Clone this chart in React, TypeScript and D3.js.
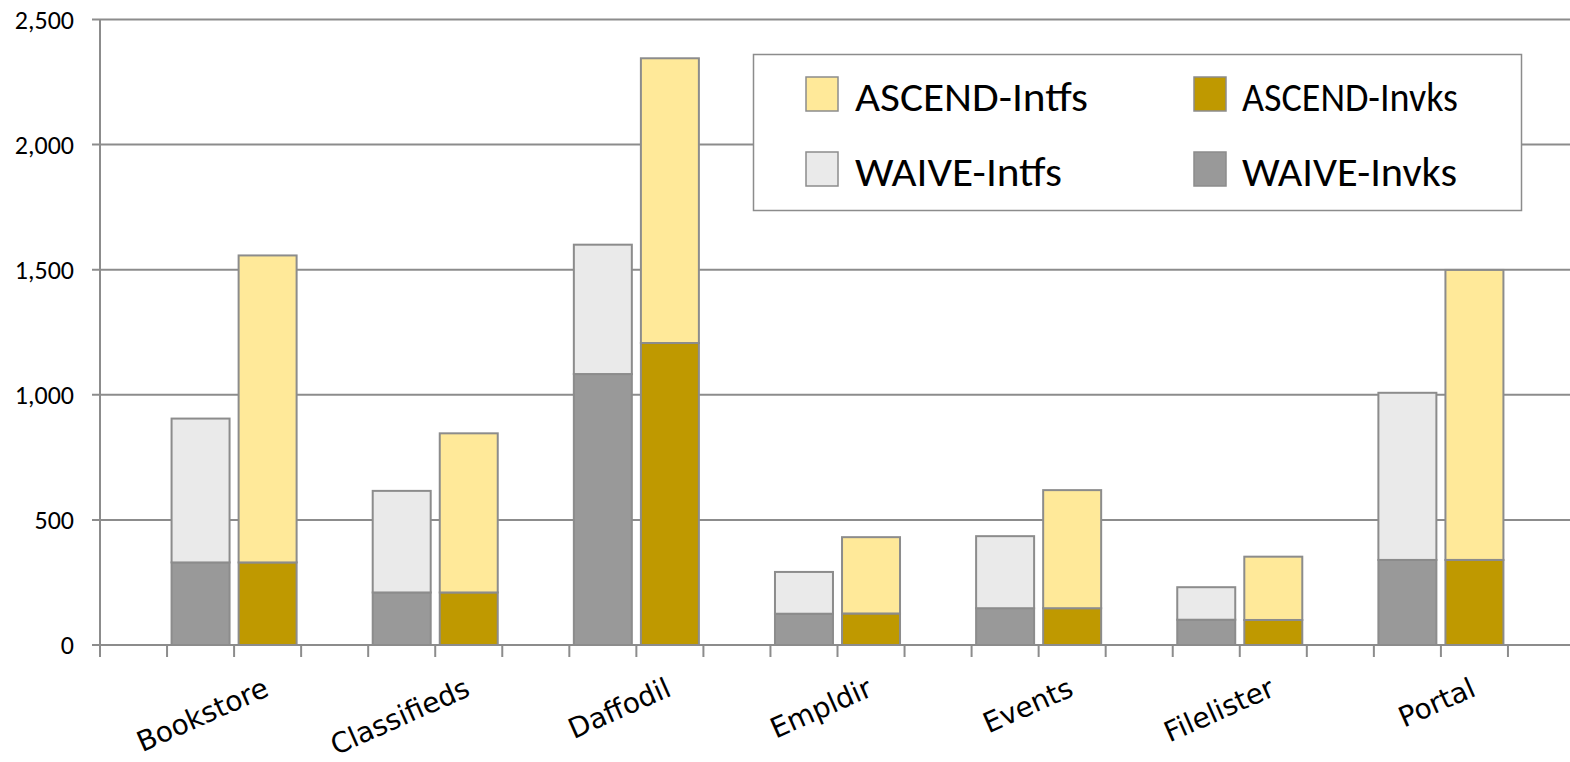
import React from "react";
import * as d3 from "d3";

const apps = ["Bookstore", "Classifieds", "Daffodil", "Empldir", "Events", "Filelister", "Portal"];
const waiveInvks = [330, 210, 1083, 125, 147, 101, 340];
const waiveIntfs = [575, 406, 517, 167, 288, 130, 668];
const ascendInvks = [330, 210, 1207, 126, 147, 100, 340];
const ascendIntfs = [1227, 636, 1138, 305, 472, 253, 1159];
const yTicks = [0, 500, 1000, 1500, 2000, 2500];

const legendItems = [
  { label: "ASCEND-Intfs", color: "#FFE999", len: 233 },
  { label: "ASCEND-Invks", color: "#BF9900", len: 216 },
  { label: "WAIVE-Intfs", color: "#EAEAEA", len: 207 },
  { label: "WAIVE-Invks", color: "#999999", len: 215 },
];

const W = 1570;
const H = 762;
const STROKE = "#8C8C8C";
const SLOTS = apps.length * 3 + 1;

export default function App() {
  const x = d3.scaleLinear().domain([0, SLOTS]).range([100, 1575]);
  const y = d3.scaleLinear().domain([0, 2500]).range([645, 19.5]);
  const slotW = x(1) - x(0);
  const barW = slotW * 0.865;
  const fmt = d3.format(",");

  const bars: { x: number; y0: number; y1: number; color: string; key: string }[] = [];
  apps.forEach((a, i) => {
    const wx = x(i * 3 + 1) + (slotW - barW) / 2;
    const ax = x(i * 3 + 2) + (slotW - barW) / 2;
    bars.push({ key: a + "wi", x: wx, y0: 0, y1: waiveInvks[i], color: "#999999" });
    bars.push({ key: a + "wf", x: wx, y0: waiveInvks[i], y1: waiveInvks[i] + waiveIntfs[i], color: "#EAEAEA" });
    bars.push({ key: a + "ai", x: ax, y0: 0, y1: ascendInvks[i], color: "#BF9900" });
    bars.push({ key: a + "af", x: ax, y0: ascendInvks[i], y1: ascendInvks[i] + ascendIntfs[i], color: "#FFE999" });
  });

  const slotTicks = d3.range(0, SLOTS + 1);

  return (
    <svg width={W} height={H} style={{ position: "absolute", left: 0, top: 0, background: "#fff" }}>
      {yTicks.map((t) => (
        <line key={"g" + t} x1={92} x2={W} y1={y(t)} y2={y(t)} stroke={STROKE} strokeWidth={2} />
      ))}
      {yTicks.map((t) => (
        <text
          key={"yl" + t}
          x={74}
          y={y(t)}
          dy="0.36em"
          textAnchor="end"
          fontFamily="Carlito, Lato, sans-serif"
          fontSize={26}
          fill="#000"
        >
          {fmt(t)}
        </text>
      ))}
      <line x1={100} x2={100} y1={y(2500)} y2={y(0)} stroke={STROKE} strokeWidth={2} />
      {bars.map((b) => (
        <rect
          key={b.key}
          x={b.x}
          y={y(b.y1)}
          width={barW}
          height={y(b.y0) - y(b.y1)}
          fill={b.color}
          stroke={STROKE}
          strokeWidth={2}
        />
      ))}
      <line x1={92} x2={W} y1={y(0)} y2={y(0)} stroke={STROKE} strokeWidth={2} />
      {slotTicks.map((s) => (
        <line key={"xt" + s} x1={x(s)} x2={x(s)} y1={y(0)} y2={y(0) + 12} stroke={STROKE} strokeWidth={2} />
      ))}
      {apps.map((a, i) => {
        const cx = x(i * 3 + 1.5) + 70;
        const cy = 695;
        return (
          <text
            key={"cl" + a}
            x={cx}
            y={cy}
            textAnchor="end"
            transform={`rotate(-24 ${cx} ${cy})`}
            fontFamily="'DejaVu Sans', sans-serif"
            fontSize={28}
            fill="#000"
          >
            {a}
          </text>
        );
      })}
      <rect x={753.5} y={54.5} width={768} height={156} fill="#fff" stroke={STROKE} strokeWidth={1.5} />
      {legendItems.map((it, i) => {
        const col = i % 2;
        const row = Math.floor(i / 2);
        const sx = col === 0 ? 806 : 1194;
        const tx = col === 0 ? 855 : 1242;
        const sy = row === 0 ? 77 : 152;
        return (
          <g key={"lg" + it.label}>
            <rect x={sx} y={sy} width={32} height={34} fill={it.color} stroke={STROKE} strokeWidth={1.5} />
            <text
              x={tx}
              y={sy + 34}
              fontFamily="Carlito, Lato, sans-serif"
              fontSize={42}
              textLength={it.len}
              lengthAdjust="spacingAndGlyphs"
              fill="#000"
            >
              {it.label}
            </text>
          </g>
        );
      })}
    </svg>
  );
}
